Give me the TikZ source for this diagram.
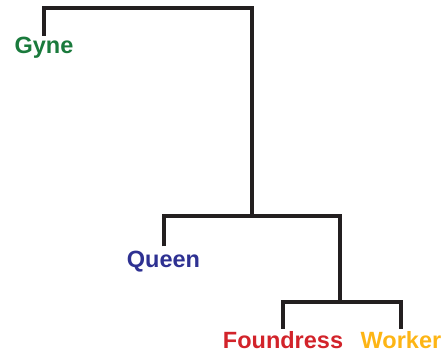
\documentclass[tikz,border=0pt]{standalone}
\usepackage{fontspec}
\setmainfont{Liberation Sans}
\definecolor{linec}{HTML}{231F20}
\definecolor{gynec}{HTML}{1A7A3C}
\definecolor{queenc}{HTML}{2E3192}
\definecolor{foundc}{HTML}{D2232A}
\definecolor{workc}{HTML}{FDB515}
\begin{document}
\begin{tikzpicture}[x=1pt,y=-1pt,
  lbl/.style={anchor=base,inner sep=0pt,font=\fontsize{23.5}{27}\selectfont\bfseries},
  branch/.style={draw=linec,line width=4pt,line join=miter}]
\useasboundingbox (0,0) rectangle (445,353);
\node[lbl,text=gynec] (gyne) at (44,54) {Gyne};
\node[lbl,text=queenc] (queen) at (163.5,267) {Queen};
\node[lbl,text=foundc] (found) at (283,348) {Foundress};
\node[lbl,text=workc] (work) at (401,348) {Worker};
\coordinate (n1) at (252,8);
\coordinate (n2) at (252,216);
\coordinate (n3) at (340,302);
\draw[branch] ([yshift=1.5pt]gyne.north) |- (n1) -- (n2);
\draw[branch] ([yshift=4pt]queen.north) |- (n2) -| (n3);
\draw[branch] ([yshift=2pt]found.north) |- (n3) -| ([yshift=2pt]work.north);
\end{tikzpicture}
\end{document}
